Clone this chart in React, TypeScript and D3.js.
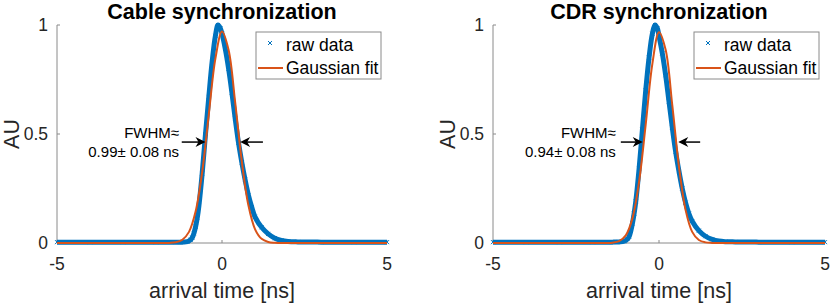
import React from 'react';
import * as d3 from 'd3';

const W = 830;
const H = 303;

const xTicks = [-5, 0, 5];
const yTicks = [0, 0.5, 1];
const titles = ['Cable synchronization', 'CDR synchronization'];
const legendLabels = ['raw data', 'Gaussian fit'];
const fwhmLines = [
  ['FWHM\u2248', '0.99\u00b1 0.08 ns'],
  ['FWHM\u2248', '0.94\u00b1 0.08 ns'],
];

// raw data, [time ns, normalised counts]
const cableRaw: [number, number][] = [
  [-5, 0.004], [-4, 0.004], [-3, 0.004], [-2, 0.004], [-1.4, 0.004], [-1.2, 0.004], [-1.05, 0.006],
  [-0.95, 0.015], [-0.9, 0.025], [-0.85, 0.045], [-0.8, 0.075], [-0.75, 0.115], [-0.7, 0.17],
  [-0.6, 0.32], [-0.5, 0.5], [-0.4, 0.67], [-0.3, 0.83], [-0.2, 0.95], [-0.12, 1.0], [-0.05, 0.985],
  [0, 0.96], [0.1, 0.89], [0.2, 0.8], [0.3, 0.69], [0.4, 0.57], [0.5, 0.46], [0.6, 0.37],
  [0.7, 0.29], [0.8, 0.22], [0.9, 0.165], [1.0, 0.12], [1.2, 0.072], [1.4, 0.042], [1.6, 0.022],
  [1.8, 0.012], [2.0, 0.007], [2.3, 0.005], [3, 0.004], [4, 0.004], [5, 0.004],
];
const cdrRaw: [number, number][] = [
  [-5, 0.004], [-4, 0.004], [-3, 0.004], [-2, 0.004], [-1.4, 0.004], [-1.2, 0.005], [-1.05, 0.008],
  [-0.95, 0.018], [-0.9, 0.03], [-0.85, 0.055], [-0.8, 0.09], [-0.75, 0.135], [-0.7, 0.19],
  [-0.6, 0.34], [-0.5, 0.52], [-0.4, 0.7], [-0.3, 0.85], [-0.2, 0.96], [-0.12, 1.0], [-0.05, 0.985],
  [0, 0.95], [0.1, 0.87], [0.2, 0.77], [0.3, 0.65], [0.4, 0.53], [0.5, 0.42], [0.6, 0.33],
  [0.7, 0.25], [0.8, 0.185], [0.9, 0.135], [1.0, 0.1], [1.2, 0.057], [1.4, 0.031], [1.6, 0.017],
  [1.8, 0.009], [2.0, 0.006], [2.3, 0.005], [3, 0.004], [4, 0.004], [5, 0.004],
];

// gaussian fit, [time ns, value]
const cableFit: [number, number][] = [
  [-5, 0], [-2, 0], [-1.6, 0.0005], [-1.4, 0.0033], [-1.2, 0.015], [-1.0, 0.051], [-0.8, 0.144],
  [-0.6, 0.326], [-0.4, 0.59], [-0.2, 0.846], [0, 0.97], [0.2, 0.885], [0.4, 0.644], [0.6, 0.374],
  [0.8, 0.173], [1.0, 0.064], [1.2, 0.019], [1.4, 0.0045], [1.6, 0.001], [2, 0], [5, 0],
];
const cdrFit: [number, number][] = [
  [-5, 0], [-2, 0], [-1.6, 0.0003], [-1.4, 0.0016], [-1.2, 0.0086], [-1.0, 0.035], [-0.8, 0.113],
  [-0.6, 0.281], [-0.4, 0.544], [-0.2, 0.822], [0, 0.967], [0.2, 0.886], [0.4, 0.632], [0.6, 0.352],
  [0.8, 0.152], [1.0, 0.051], [1.2, 0.0135], [1.4, 0.0028], [1.6, 0.0004], [2, 0], [5, 0],
];

// arrows [from x, to x, y] in data units
const cableArrows: [number, number, number][] = [[-1.22, -0.5, 0.463], [1.24, 0.55, 0.463]];
const cdrArrows: [number, number, number][] = [[-1.15, -0.49, 0.463], [1.24, 0.58, 0.463]];
const fwhmTextPos: [number, number][] = [[-1.3, 0.48], [-1.3, 0.393]];

const BLUE = '#0072BD';
const ORANGE = '#D95319';
const AXIS = '#8a8a8a';
const TXT = '#262626';
const FONT = '"Liberation Sans", Arial, Helvetica, sans-serif';

type PanelProps = {
  x0: number;
  x1: number;
  idx: number;
  raw: [number, number][];
  fit: [number, number][];
  arrows: [number, number, number][];
};

const Panel = ({ x0, x1, idx, raw, fit, arrows }: PanelProps) => {
  const x = d3.scaleLinear().domain([-5, 5]).range([x0, x1]);
  const y = d3.scaleLinear().domain([0, 1]).range([243, 25]);
  const line = d3.line<[number, number]>()
    .x(d => x(d[0]))
    .y(d => y(d[1]))
    .curve(d3.curveCatmullRom.alpha(0.5));
  const cx = (x0 + x1) / 2;
  const lgRight = x1 - 6;
  const lgLeft = lgRight - 125;

  return (
    <g>
      {/* axes */}
      <line x1={x0} x2={x1} y1={y(0)} y2={y(0)} stroke={AXIS} strokeWidth={1} />
      <line x1={x0} x2={x0} y1={y(0)} y2={y(1)} stroke={AXIS} strokeWidth={1} />
      {xTicks.map(t => (
        <g key={'xt' + t}>
          <line x1={x(t)} x2={x(t)} y1={y(0)} y2={y(0) - 3} stroke={AXIS} />
          <text x={x(t)} y={270} textAnchor="middle" fontSize={17.5} fill={TXT}>{t}</text>
        </g>
      ))}
      {yTicks.map(t => (
        <g key={'yt' + t}>
          <line x1={x0} x2={x0 + 3} y1={y(t)} y2={y(t)} stroke={AXIS} />
          <text x={x0 - 9} y={y(t)} dy="0.36em" textAnchor="end" fontSize={17.5} fill={TXT}>{t}</text>
        </g>
      ))}

      {/* raw data */}
      <path d={line(raw) || ''} fill="none" stroke={BLUE} strokeWidth={5} strokeLinejoin="round" />
      {raw.map((d, i) => (
        <path key={'m' + i}
          d={`M${x(d[0]) - 2},${y(d[1]) - 2}L${x(d[0]) + 2},${y(d[1]) + 2}M${x(d[0]) - 2},${y(d[1]) + 2}L${x(d[0]) + 2},${y(d[1]) - 2}`}
          stroke={BLUE} strokeWidth={1} />
      ))}
      {/* fit */}
      <path d={line(fit) || ''} fill="none" stroke={ORANGE} strokeWidth={2} />

      {/* FWHM annotation */}
      {fwhmLines[idx].map((s, i) => (
        <text key={'fw' + i} x={x(fwhmTextPos[i][0])} y={y(fwhmTextPos[i][1])} textAnchor="end"
          fontSize={15} fill="#000">{s}</text>
      ))}
      {arrows.map((a, i) => {
        const dir = a[1] > a[0] ? 1 : -1;
        const tx = x(a[1]);
        const ty = y(a[2]);
        return (
          <g key={'ar' + i}>
            <line x1={x(a[0])} x2={tx - dir * 6} y1={ty} y2={ty} stroke="#000" strokeWidth={1.5} />
            <path d={`M${tx},${ty}L${tx - dir * 10},${ty - 5}L${tx - dir * 7},${ty}L${tx - dir * 10},${ty + 5}Z`} fill="#000" />
          </g>
        );
      })}

      {/* legend */}
      <rect x={lgLeft} y={32} width={125} height={47} fill="#fff" stroke={AXIS} strokeWidth={1} />
      <path d={`M${lgLeft + 12},41L${lgLeft + 16},45M${lgLeft + 12},45L${lgLeft + 16},41`} stroke={BLUE} strokeWidth={1} />
      <line x1={lgLeft + 2} x2={lgLeft + 27} y1={68} y2={68} stroke={ORANGE} strokeWidth={2} />
      <text x={lgLeft + 30} y={51} fontSize={17.5} fill="#000">{legendLabels[0]}</text>
      <text x={lgLeft + 30} y={74} fontSize={17.5} fill="#000">{legendLabels[1]}</text>

      {/* labels */}
      <text x={cx} y={19} textAnchor="middle" fontSize={21.5} fontWeight="bold" fill="#000">{titles[idx]}</text>
      <text x={cx} y={298} textAnchor="middle" fontSize={21.5} fill={TXT}>arrival time [ns]</text>
      <text transform={`translate(${x0 - 38},${y(0.5)}) rotate(-90)`} textAnchor="middle" fontSize={21.5} fill={TXT}>AU</text>
    </g>
  );
};

export default function App() {
  return (
    <svg width={W} height={H} style={{ position: 'fixed', left: 0, top: 0, background: '#fff', fontFamily: FONT }}>
      <Panel x0={57} x1={387} idx={0} raw={cableRaw} fit={cableFit} arrows={cableArrows} />
      <Panel x0={493} x1={825} idx={1} raw={cdrRaw} fit={cdrFit} arrows={cdrArrows} />
    </svg>
  );
}
